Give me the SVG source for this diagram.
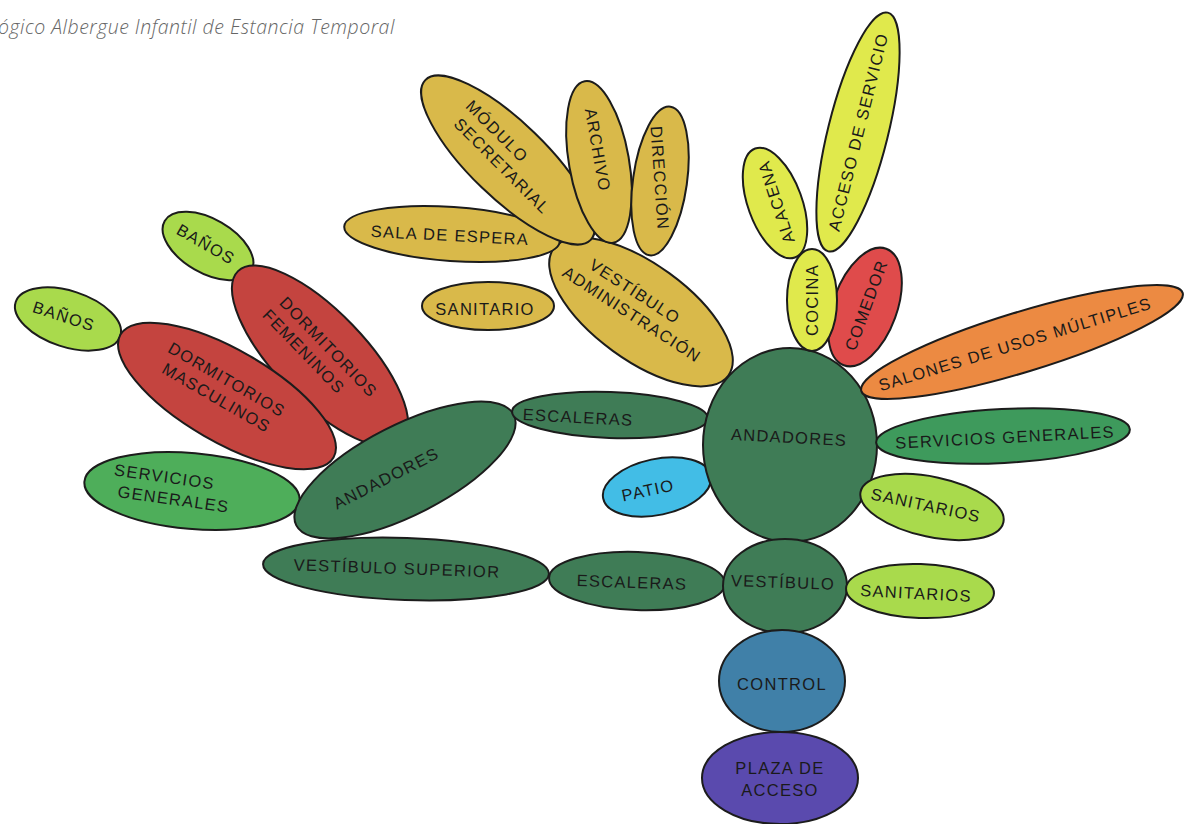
<svg xmlns="http://www.w3.org/2000/svg" width="1188" height="824" viewBox="0 0 1188 824">
<style>
.n{stroke:#1c1c1c;stroke-width:2}
.t{font-family:"Liberation Sans",Arial,sans-serif;font-size:16.5px;fill:#1a1a1a;text-anchor:middle;dominant-baseline:central;letter-spacing:1.3px}
.mu{fill:#d9b94a}.li{fill:#a9da4c}.rd{fill:#c4443f}.dg{fill:#3f7c56}.mg{fill:#4eae5a}.rg{fill:#3e9a5c}
.or{fill:#ec8a42}.pt{fill:#42bde6}.yl{fill:#e0e94c}.cm{fill:#df4b4b}.ct{fill:#4080a8}.pz{fill:#5a4aae}
.title{font-family:"Open Sans","Liberation Sans",sans-serif;font-style:italic;font-weight:300;font-size:19.5px;letter-spacing:0.5px;fill:#666}
</style>
<rect width="1188" height="824" fill="#fff"/>
<text class="title" x="-2" y="34">ógico Albergue Infantil de Estancia Temporal</text>
<g id="connectors"/>
<g id="banos-fem"><ellipse class="n li" cx="208" cy="246" rx="50" ry="27" transform="rotate(30 208 246)"/><text class="t" transform="translate(206 244) rotate(30)">BAÑOS</text></g>
<g id="banos-masc"><ellipse class="n li" cx="68" cy="319" rx="55" ry="28" transform="rotate(18 68 319)"/><text class="t" transform="translate(64 316) rotate(18)">BAÑOS</text></g>
<g id="dorm-fem"><ellipse class="n rd" cx="320" cy="356" rx="118" ry="45" transform="rotate(46 320 356)"/><text class="t" transform="translate(316 348) rotate(46)"><tspan x="8" dy="-10">DORMITORIOS</tspan><tspan x="-6" dy="21">FEMENINOS</tspan></text></g>
<g id="dorm-masc"><ellipse class="n rd" cx="227" cy="396" rx="123" ry="46" transform="rotate(30 227 396)"/><text class="t" transform="translate(222 388) rotate(30)"><tspan x="0" dy="-10">DORMITORIOS</tspan><tspan x="0" dy="21">MASCULINOS</tspan></text></g>
<g id="serv-gen-izq"><ellipse class="n mg" cx="192" cy="491" rx="108" ry="38" transform="rotate(5 192 491)"/><text class="t" transform="translate(175 488) rotate(8)"><tspan x="-12" dy="-10">SERVICIOS</tspan><tspan x="0" dy="21">GENERALES</tspan></text></g>
<g id="andadores-izq"><ellipse class="n dg" cx="405" cy="470" rx="122" ry="45" transform="rotate(-27 405 470)"/><text class="t" transform="translate(386 478) rotate(-27)">ANDADORES</text></g>
<g id="escaleras-sup"><ellipse class="n dg" cx="610" cy="415" rx="98" ry="23" transform="rotate(2 610 415)"/><text class="t" transform="translate(578 417) rotate(3)">ESCALERAS</text></g>
<g id="patio"><ellipse class="n pt" cx="657" cy="487" rx="55" ry="28" transform="rotate(-12 657 487)"/><text class="t" transform="translate(648 490) rotate(-12)">PATIO</text></g>
<g id="vestibulo-superior"><ellipse class="n dg" cx="406" cy="569" rx="143" ry="31" transform="rotate(2 406 569)"/><text class="t" transform="translate(397 568) rotate(2)">VESTÍBULO  SUPERIOR</text></g>
<g id="escaleras-inf"><ellipse class="n dg" cx="637" cy="581" rx="88" ry="29" transform="rotate(2 637 581)"/><text class="t" transform="translate(632 582) rotate(2)">ESCALERAS</text></g>
<g id="andadores"><ellipse class="n dg" cx="790" cy="445" rx="87" ry="97"/><text class="t" transform="translate(789 437) rotate(3)">ANDADORES</text></g>
<g id="vestibulo"><ellipse class="n dg" cx="785" cy="586" rx="62" ry="47"/><text class="t" transform="translate(783 582) rotate(2)">VESTÍBULO</text></g>
<g id="sanitarios-inf"><ellipse class="n li" cx="920" cy="591" rx="74" ry="27" transform="rotate(2 920 591)"/><text class="t" transform="translate(916 593) rotate(3)">SANITARIOS</text></g>
<g id="sanitarios-sup"><ellipse class="n li" cx="932" cy="507" rx="73" ry="30" transform="rotate(12 932 507)"/><text class="t" transform="translate(926 505) rotate(12)">SANITARIOS</text></g>
<g id="serv-gen-der"><ellipse class="n rg" cx="1003" cy="436" rx="127" ry="27" transform="rotate(-3 1003 436)"/><text class="t" transform="translate(1005 437) rotate(-3)">SERVICIOS  GENERALES</text></g>
<g id="salones"><ellipse class="n or" cx="1022" cy="342" rx="168" ry="30" transform="rotate(-17 1022 342)"/><text class="t" transform="translate(1015 344) rotate(-17)">SALONES  DE  USOS  MÚLTIPLES</text></g>
<g id="comedor"><ellipse class="n cm" cx="865" cy="307" rx="32" ry="62" transform="rotate(20 865 307)"/><text class="t" transform="translate(866 305) rotate(-70)">COMEDOR</text></g>
<g id="cocina"><ellipse class="n yl" cx="812" cy="300" rx="25" ry="51"/><text class="t" transform="translate(812 300) rotate(-90)">COCINA</text></g>
<g id="alacena"><ellipse class="n yl" cx="775" cy="203" rx="27" ry="58" transform="rotate(-20 775 203)"/><text class="t" transform="translate(776 202) rotate(-108)">ALACENA</text></g>
<g id="acceso-servicio"><ellipse class="n yl" cx="858" cy="132" rx="30" ry="123" transform="rotate(14 858 132)"/><text class="t" transform="translate(858 132) rotate(-76)">ACCESO  DE  SERVICIO</text></g>
<g id="vestibulo-admin"><ellipse class="n mu" cx="641" cy="312" rx="108" ry="48" transform="rotate(36 641 312)"/><text class="t" transform="translate(638 305) rotate(33)"><tspan x="-10" dy="-10">VESTÍBULO</tspan><tspan x="0" dy="21">ADMINISTRACIÓN</tspan></text></g>
<g id="sala-espera"><ellipse class="n mu" cx="452" cy="234" rx="108" ry="27" transform="rotate(4 452 234)"/><text class="t" transform="translate(450 235) rotate(3)">SALA  DE  ESPERA</text></g>
<g id="sanitario"><ellipse class="n mu" cx="488" cy="306" rx="66" ry="24"/><text class="t" transform="translate(485 309)">SANITARIO</text></g>
<g id="modulo-secretarial"><ellipse class="n mu" cx="508" cy="160" rx="115" ry="38" transform="rotate(44 508 160)"/><text class="t" transform="translate(510 158) rotate(45)"><tspan x="-28" dy="-10">MÓDULO</tspan><tspan x="0" dy="21">SECRETARIAL</tspan></text></g>
<g id="archivo"><ellipse class="n mu" cx="599" cy="162" rx="30" ry="82" transform="rotate(-10 599 162)"/><text class="t" transform="translate(598 150) rotate(80)">ARCHIVO</text></g>
<g id="direccion"><ellipse class="n mu" cx="660" cy="181" rx="27" ry="75" transform="rotate(8 660 181)"/><text class="t" transform="translate(660 178) rotate(86)">DIRECCIÓN</text></g>
<g id="control"><ellipse class="n ct" cx="782" cy="681" rx="63" ry="51"/><text class="t" x="782" y="684">CONTROL</text></g>
<g id="plaza-acceso"><ellipse class="n pz" cx="780" cy="778" rx="78" ry="46"/><text class="t" x="780" y="778"><tspan x="780" dy="-10">PLAZA  DE</tspan><tspan x="780" dy="22">ACCESO</tspan></text></g>
</svg>
